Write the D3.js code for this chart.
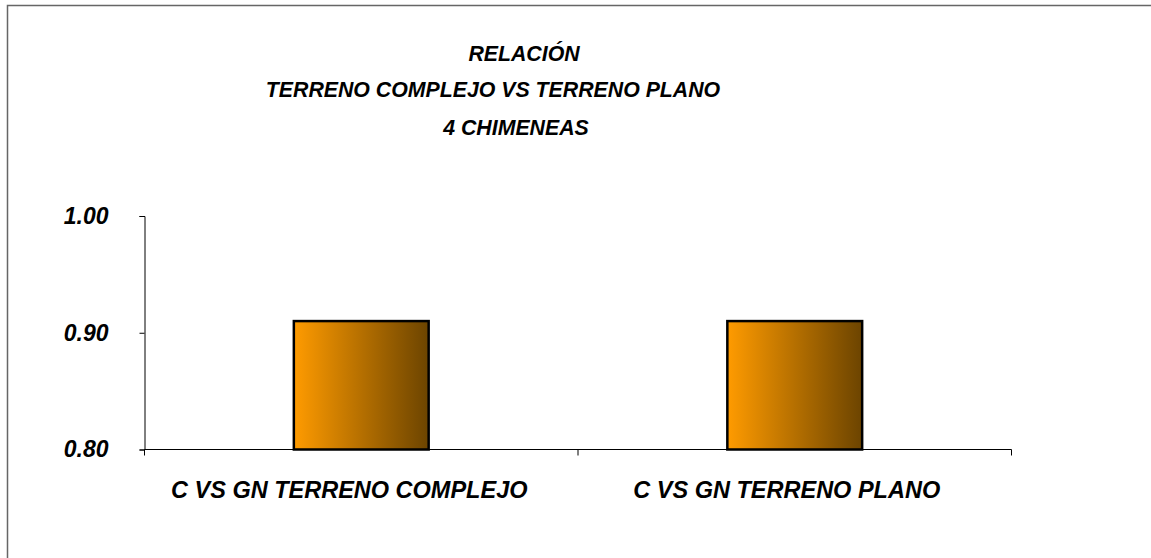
<!DOCTYPE html>
<html>
<head>
<meta charset="utf-8">
<script src="https://cdn.jsdelivr.net/npm/d3@7"></script>
<style>
  html, body { margin: 0; padding: 0; background: #fff; }
  svg { display: block; }
  text { font-family: "Liberation Sans", Arial, sans-serif; font-weight: bold; font-style: italic; fill: #000; }
</style>
</head>
<body>
<svg id="chart" width="1151" height="558"></svg>
<script>
// Chart data
const categories = ["C VS GN TERRENO COMPLEJO", "C VS GN TERRENO PLANO"];
const values = [0.91, 0.91];
const yTicks = [0.80, 0.90, 1.00];
const titleLines = ["RELACIÓN", "TERRENO COMPLEJO VS TERRENO PLANO", "4 CHIMENEAS"];

const svg = d3.select("#chart");
const W = 1151, H = 558;
const plot = { left: 144.5, right: 1011.5, top: 216, bottom: 449.5 };

// Outer chart-area frame (runs past the right and bottom edges)
svg.append("rect")
  .attr("x", 7.5).attr("y", 5.5)
  .attr("width", W + 20).attr("height", H + 20)
  .attr("fill", "#fff").attr("stroke", "#666").attr("stroke-width", 1.5);

// Bar fill: horizontal orange-to-brown gradient
const defs = svg.append("defs");
const grad = defs.append("linearGradient").attr("id", "barFill")
  .attr("x1", "0%").attr("x2", "100%").attr("y1", "0%").attr("y2", "0%");
grad.append("stop").attr("offset", "0%").attr("stop-color", "#FF9B00");
grad.append("stop").attr("offset", "100%").attr("stop-color", "#6C4400");

// Scales
const x = d3.scaleBand()
  .domain(categories)
  .range([plot.left, plot.right])
  .paddingInner(0.689)
  .paddingOuter(0.3445);
const y = d3.scaleLinear()
  .domain([0.80, 1.00])
  .range([plot.bottom, plot.top]);

// Title
const titleX = [524, 493, 516];
const titleY = [61, 97, 135];
svg.append("g").selectAll("text")
  .data(titleLines)
  .join("text")
  .attr("x", (d, i) => titleX[i])
  .attr("y", (d, i) => titleY[i])
  .attr("text-anchor", "middle")
  .attr("font-size", 21.3)
  .text(d => d);

// Bars
svg.append("g").selectAll("rect")
  .data(values)
  .join("rect")
  .attr("x", (d, i) => x(categories[i]))
  .attr("width", x.bandwidth())
  .attr("y", d => y(d))
  .attr("height", d => y(0.80) - y(d))
  .attr("fill", "url(#barFill)")
  .attr("stroke", "#000")
  .attr("stroke-width", 2.5);

// Y axis
const yAxis = d3.axisLeft(y)
  .tickValues(yTicks)
  .tickFormat(d3.format(".2f"))
  .tickSize(5)
  .tickPadding(31);
const gy = svg.append("g")
  .attr("transform", `translate(${plot.left},0)`)
  .call(yAxis);
gy.select(".domain").attr("stroke", "#000").attr("stroke-width", 1);
gy.selectAll(".tick line").attr("stroke", "#000");
gy.selectAll(".tick text")
  .attr("font-size", 23)
  .attr("font-family", null)
  .attr("fill", "#000");

// X axis: baseline, with ticks at the category boundaries
const gx = svg.append("g");
gx.append("line")
  .attr("x1", plot.left).attr("x2", plot.right)
  .attr("y1", plot.bottom).attr("y2", plot.bottom)
  .attr("stroke", "#000").attr("stroke-width", 1);
gx.selectAll("line.tk")
  .data([plot.left, (plot.left + plot.right) / 2, plot.right])
  .join("line")
  .attr("class", "tk")
  .attr("x1", d => d).attr("x2", d => d)
  .attr("y1", plot.bottom).attr("y2", plot.bottom + 6)
  .attr("stroke", "#000");
gx.selectAll("text")
  .data(categories)
  .join("text")
  .attr("x", (d, i) => x(d) + x.bandwidth() / 2 - (i === 0 ? 12 : 8))
  .attr("y", 498)
  .attr("text-anchor", "middle")
  .attr("font-size", 23.5)
  .text(d => d);
</script>
</body>
</html>
